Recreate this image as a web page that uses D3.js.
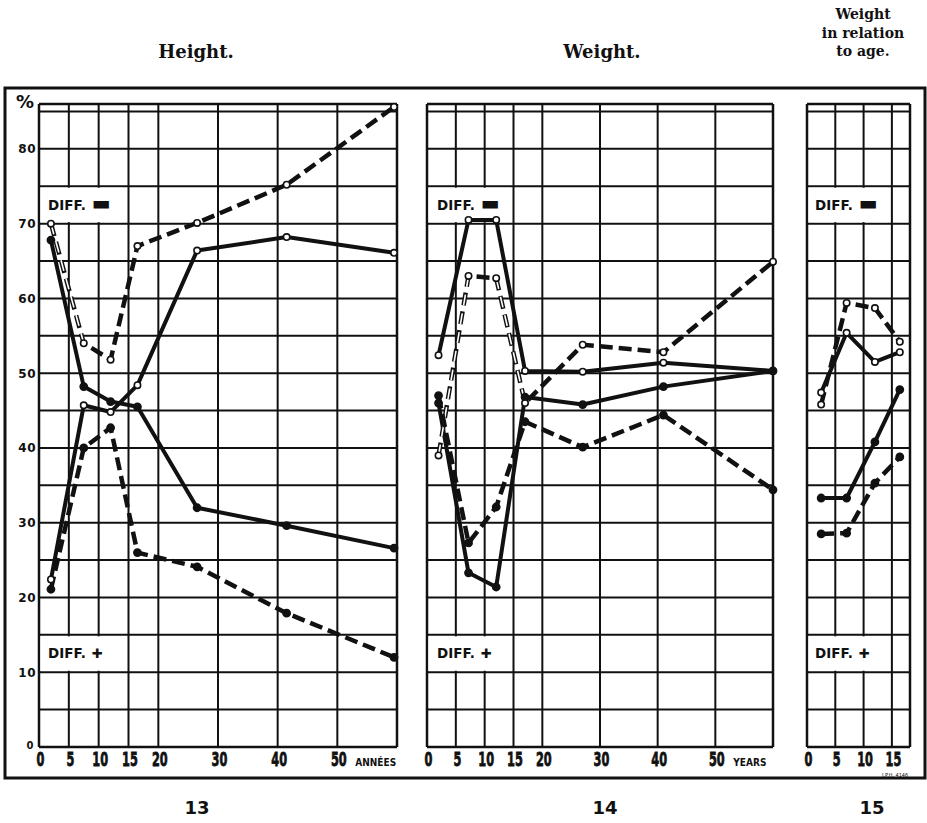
<!DOCTYPE html>
<html lang="en">
<head>
<meta charset="UTF-8">
<title>Height, weight, weight in relation to age</title>
<script src="https://d3js.org/d3.v7.min.js"></script>
<style>
  body { margin: 0; background: #fff; }
  text { fill: #111; }
  .title { font-family: 'DejaVu Serif', serif; font-weight: bold; }
  .fig { font-family: 'DejaVu Sans', sans-serif; font-weight: bold; font-size: 18px; }
  .xlab { font-family: 'DejaVu Sans Condensed', 'DejaVu Sans', sans-serif; font-weight: bold; font-size: 21px; stroke: #111; stroke-width: 0.8px; }
  .unit { font-family: 'DejaVu Sans Condensed', sans-serif; font-weight: bold; font-size: 10px; }
  .ylab { font-family: 'DejaVu Sans', sans-serif; font-weight: bold; font-size: 12px; letter-spacing: 0.5px; }
  .diff { font-family: 'DejaVu Sans', sans-serif; font-weight: bold; font-size: 13.5px; }
</style>
</head>
<body>
<script>

    const width  = 927;
    const height = 823;

    // Fig. 13 - height
    const heightAges         = [2, 7.5, 12, 16.5, 26.5, 41.5, 59.5];
    const heightSolidOpen    = [22.4, 45.7, 44.8, 48.4, 66.4, 68.2, 66.1];
    const heightSolidFilled  = [67.8, 48.2, 46.2, 45.5, 32.0, 29.6, 26.6];
    const heightDashedOpen   = [70.0, 54.0, 51.8, 67.0, 70.1, 75.2, 85.6];
    const heightDashedFilled = [21.1, 40.0, 42.7, 26.0, 24.1, 17.9, 12.0];

    // Fig. 14 - weight
    const weightAges         = [2, 7.2, 12, 17, 27, 41, 60];
    const weightSolidOpen    = [52.4, 70.5, 70.5, 50.3, 50.2, 51.4, 50.3];
    const weightSolidFilled  = [46.0, 23.3, 21.4, 46.8, 45.8, 48.2, 50.3];
    const weightDashedOpen   = [39.0, 63.0, 62.7, 46.0, 53.8, 52.8, 64.9];
    const weightDashedFilled = [47.0, 27.3, 32.1, 43.5, 40.1, 44.4, 34.4];

    // Fig. 15 - weight in relation to age
    const relAges         = [2.5, 7, 12, 16.4];
    const relSolidOpen    = [47.4, 55.4, 51.5, 52.8];
    const relDashedOpen   = [45.8, 59.4, 58.7, 54.2];
    const relSolidFilled  = [33.3, 33.3, 40.8, 47.8];
    const relDashedFilled = [28.5, 28.6, 35.3, 38.8];

    const percentTicks = [0, 10, 20, 30, 40, 50, 60, 70, 80];
    const longAgeTicks = [0, 5, 10, 15, 20, 30, 40, 50];
    const shortAgeTicks = [0, 5, 10, 15];

    const panels = [
        {fig: '13', title: ['Height.'], left: 39, right: 397, maxAge: 60,
         grid: [0, 5, 10, 15, 20, 30, 40, 50, 60], ticks: longAgeTicks, unit: 'ANNÉES',
         ages: heightAges, axis: true, diffX: 48, boxRight: 122,
         series: [
             {values: heightSolidOpen,    dashed: false, open: true},
             {values: heightSolidFilled,  dashed: false, open: false},
             {values: heightDashedOpen,   dashed: true,  open: true, hollow: [0]},
             {values: heightDashedFilled, dashed: true,  open: false}
         ]},
        {fig: '14', title: ['Weight.'], left: 427, right: 773, maxAge: 60,
         grid: [0, 5, 10, 15, 20, 30, 40, 50, 60], ticks: longAgeTicks, unit: 'YEARS',
         ages: weightAges, axis: false, diffX: 437, boxRight: 510,
         series: [
             {values: weightSolidOpen,    dashed: false, open: true},
             {values: weightSolidFilled,  dashed: false, open: false},
             {values: weightDashedOpen,   dashed: true,  open: true, hollow: [0, 2]},
             {values: weightDashedFilled, dashed: true,  open: false}
         ]},
        {fig: '15', title: ['Weight', 'in relation', 'to age.'], left: 807, right: 910, maxAge: 18.2,
         grid: [0, 5, 10, 15, 18.2], ticks: shortAgeTicks, unit: null,
         ages: relAges, axis: false, diffX: 815, boxRight: 888,
         series: [
             {values: relSolidOpen,    dashed: false, open: true},
             {values: relSolidFilled,  dashed: false, open: false},
             {values: relDashedOpen,   dashed: true,  open: true},
             {values: relDashedFilled, dashed: true,  open: false}
         ]}
    ];

    const y = d3.scaleLinear().domain([0, 86]).range([747, 104]);

    const svg = d3.select("body")
            .append("svg")
            .attr("width", width)
            .attr("height", height);

    svg.append("rect")
            .attr("width", width).attr("height", height)
            .attr("fill", "#fff");

    // outer frame round the three figures
    svg.append("rect")
            .attr("x", 5).attr("y", 88)
            .attr("width", 920).attr("height", 690)
            .attr("fill", "none")
            .attr("stroke", "#111")
            .attr("stroke-width", 3);

    panels.forEach(draw);

    function draw(p) {
        const x = d3.scaleLinear().domain([0, p.maxAge]).range([p.left, p.right]);
        const g = svg.append("g");

        // grid
        const hLines = d3.range(0, 86, 5).concat([86]);
        g.selectAll(".h").data(hLines).enter()
                .append("line")
                .attr("x1", p.left).attr("x2", p.right)
                .attr("y1", d => y(d)).attr("y2", d => y(d))
                .attr("stroke", "#111")
                .attr("stroke-width", d => (d === 0 || d === 86) ? 2.5 : 2);

        g.selectAll(".v").data(p.grid).enter()
                .append("line")
                .attr("x1", d => x(d)).attr("x2", d => x(d))
                .attr("y1", y(0)).attr("y2", y(86))
                .attr("stroke", "#111")
                .attr("stroke-width", (d, i) => (i === 0 || i === p.grid.length - 1) ? 2.5 : 2);

        // DIFF labels on white patches
        [[72.5, '\u25AC', 20], [12.5, '\u271A', 13]].forEach(l => {
            g.append("rect")
                    .attr("x", p.left + 1.5)
                    .attr("y", y(l[0] + 2.3))
                    .attr("width", p.boxRight - p.left - 1.5)
                    .attr("height", y(l[0] - 2.3) - y(l[0] + 2.3))
                    .attr("fill", "#fff");
            const t = g.append("text")
                    .attr("class", "diff")
                    .attr("x", p.diffX)
                    .attr("y", y(l[0]))
                    .attr("dy", "0.36em");
            t.append("tspan").text("DIFF.");
            t.append("tspan").attr("dx", 6).style("font-size", l[2] + "px").text(l[1]);
        });

        // x axis labels, heavy condensed figures
        const xAxis = d3.axisBottom(x).tickValues(p.ticks).tickSize(0).tickPadding(6);
        const ax = g.append("g")
                .attr("transform", "translate(0," + y(0) + ")")
                .call(xAxis);
        ax.select(".domain").remove();
        ax.selectAll("text")
                .attr("class", "xlab")
                .attr("font-size", null)
                .attr("font-family", null)
                .attr("y", 0)
                .attr("dy", 0)
                .attr("transform", "translate(1,19) scale(0.6,0.95)")
                .style("fill", "#111");

        if (p.unit) {
            g.append("text")
                    .attr("class", "unit")
                    .attr("x", x(50) + 18)
                    .attr("y", 766)
                    .text(p.unit);
        }

        // y axis labels (first figure only)
        if (p.axis) {
            const yAxis = d3.axisLeft(y).tickValues(percentTicks).tickSize(0).tickPadding(3);
            const ay = g.append("g")
                    .attr("transform", "translate(" + p.left + ",0)")
                    .call(yAxis);
            ay.select(".domain").remove();
            ay.selectAll("text")
                    .attr("class", "ylab")
                    .attr("font-size", null)
                    .attr("font-family", null)
                    .style("fill", "#111");
            ay.selectAll(".tick")
                    .filter(d => d === 0)
                    .select("text")
                    .attr("x", -5)
                    .attr("dy", "0.1em")
                    .style("font-size", "10px");
            g.append("text")
                    .attr("class", "ylab")
                    .style("font-size", "18px")
                    .attr("x", 16)
                    .attr("y", 108)
                    .text("%");
        }

        // curves
        const line = d3.line()
                .x(d => x(d.age))
                .y(d => y(d.v));

        p.series.forEach(s => {
            const pts = p.ages.map((a, i) => ({age: a, v: s.values[i]}));
            g.append("path")
                    .datum(pts)
                    .attr("d", line)
                    .attr("fill", "none")
                    .attr("stroke", "#111")
                    .attr("stroke-width", s.dashed ? 4.5 : 4)
                    .attr("stroke-linejoin", "round")
                    .attr("stroke-dasharray", s.dashed ? "13,6" : null);
            // some early segments are printed as outlined (hollow) strokes
            (s.hollow || []).forEach(k => {
                g.append("path")
                        .datum(pts.slice(k, k + 2))
                        .attr("d", line)
                        .attr("fill", "none")
                        .attr("stroke", "#fff")
                        .attr("stroke-width", 1.6)
                        .attr("stroke-dasharray", "11,8");
            });
        });

        p.series.forEach(s => {
            const pts = p.ages.map((a, i) => ({age: a, v: s.values[i]}));
            g.selectAll(null).data(pts).enter()
                    .append("circle")
                    .attr("cx", d => x(d.age))
                    .attr("cy", d => y(d.v))
                    .attr("r", s.open ? 3.2 : 3.6)
                    .attr("fill", s.open ? "#fff" : "#111")
                    .attr("stroke", "#111")
                    .attr("stroke-width", 1.6);
        });

        // titles
        if (p.title.length === 1) {
            g.append("text")
                    .attr("class", "title")
                    .attr("font-size", 18)
                    .attr("text-anchor", "middle")
                    .attr("x", p.fig === '13' ? 196 : 602)
                    .attr("y", 58)
                    .text(p.title[0]);
        } else {
            g.selectAll(".tl").data(p.title).enter()
                    .append("text")
                    .attr("class", "title")
                    .attr("font-size", 14)
                    .attr("text-anchor", "middle")
                    .attr("x", 863)
                    .attr("y", (d, i) => 19 + i * 18.5)
                    .text(d => d);
        }

        g.append("text")
                .attr("class", "fig")
                .attr("text-anchor", "middle")
                .attr("x", p.fig === '13' ? 197 : p.fig === '14' ? 605 : 872)
                .attr("y", 814)
                .text(p.fig);
    }

    svg.append("text")
            .attr("font-family", "DejaVu Sans Condensed, sans-serif")
            .attr("font-size", 5.5)
            .attr("x", 882)
            .attr("y", 776.5)
            .text("J.P.H. 4146");

</script>
</body>
</html>
